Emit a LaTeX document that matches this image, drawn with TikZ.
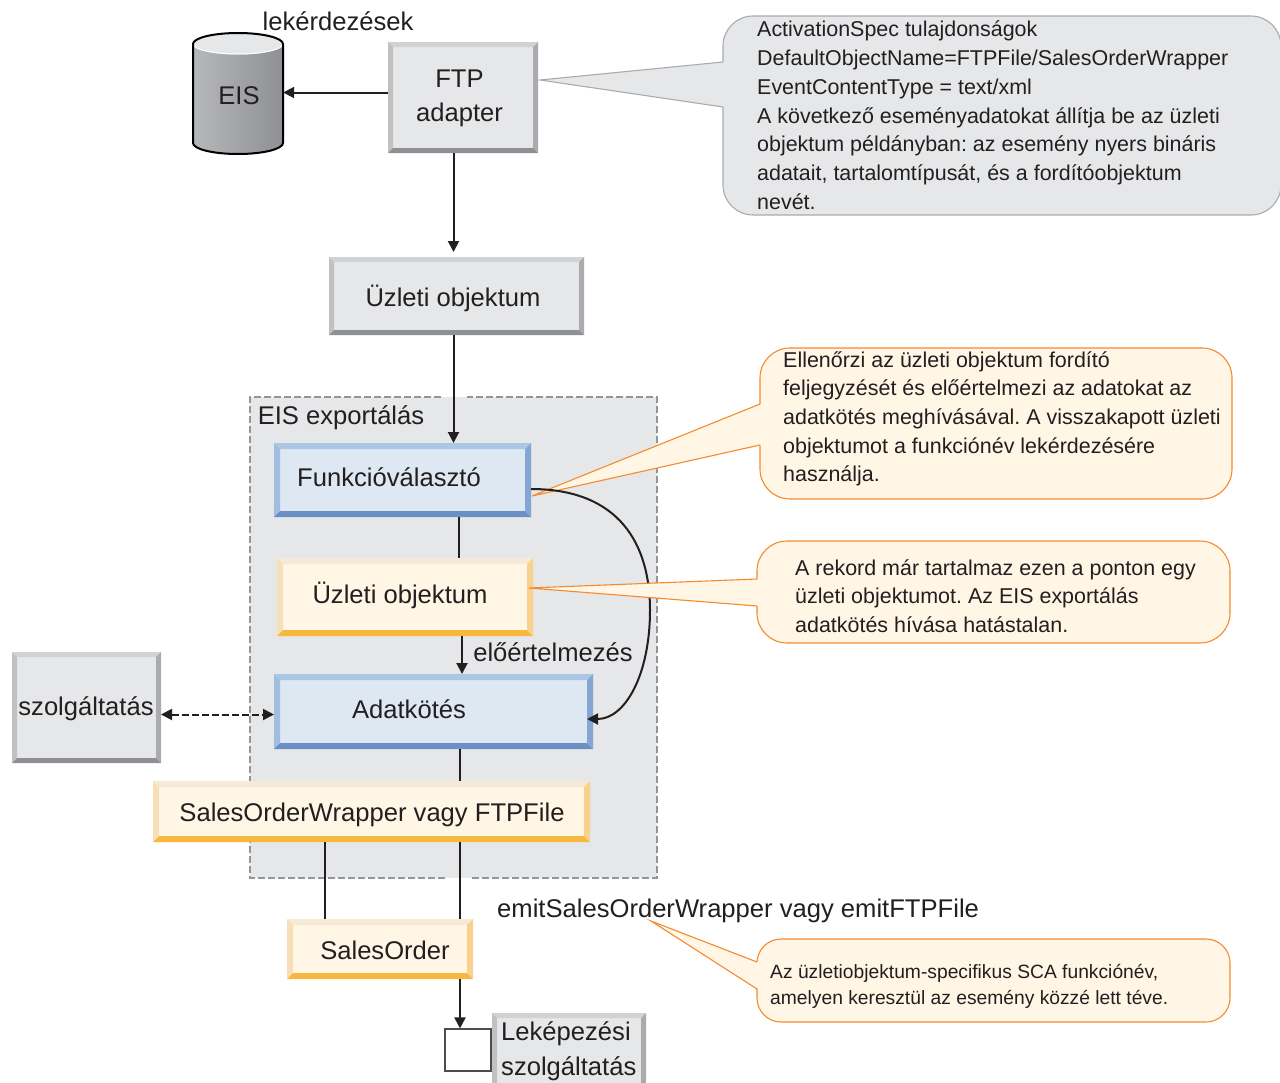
\documentclass[tikz,border=0pt]{standalone}
\usepackage{fontspec}
\setmainfont{Liberation Sans}
\usetikzlibrary{arrows.meta}
\definecolor{ink}{HTML}{231F20}
\definecolor{graytop}{HTML}{D0D2D4}
\definecolor{grayleft}{HTML}{BFC1C3}
\definecolor{grayright}{HTML}{A9ABAE}
\definecolor{graybottom}{HTML}{8E9093}
\definecolor{grayface}{HTML}{E6E7E8}
\definecolor{bluetop}{HTML}{AAC8E4}
\definecolor{blueleft}{HTML}{A0BEE0}
\definecolor{blueright}{HTML}{85A6D2}
\definecolor{bluebottom}{HTML}{6C90C6}
\definecolor{blueface}{HTML}{DDE8F2}
\definecolor{yellowtop}{HTML}{F6E9D5}
\definecolor{yellowleft}{HTML}{F6DFB9}
\definecolor{yellowright}{HTML}{F8D18C}
\definecolor{yellowbottom}{HTML}{F6B83F}
\definecolor{yellowface}{HTML}{FFF6E5}
\definecolor{noteline}{HTML}{F58A2E}
\definecolor{dashgray}{HTML}{939598}
\tikzset{
  boxtext/.style={font=\fontsize{25.6}{34.5}\selectfont\frenchspacing, text=ink, inner sep=0pt},
  notetext/.style={font=\fontsize{21.45}{28.7}\selectfont\frenchspacing, text=ink, inner sep=0pt, align=left, anchor=north west},
  smalltext/.style={font=\fontsize{19.25}{26}\selectfont\frenchspacing, text=ink, inner sep=0pt, align=left, anchor=north west},
  conn/.style={draw=ink, line width=2pt},
  arrow/.style={conn, -{Triangle[length=11pt,width=11pt]}},
  yellownote/.style={fill=yellowface, draw=noteline, line width=1.1pt},
  graynote/.style={fill=grayface, draw=grayright, line width=1.1pt},
}
% box with four bevelled edges
\newcommand{\bevelbox}[7][6]{%
  \node[fill=#7face, inner sep=0pt, outer sep=0pt, minimum width={#5pt-#3pt}, minimum height={#6pt-#4pt}]
    (#2) at ({(#3+#5)/2},{(#4+#6)/2}) {};
  \fill[#7top] (#3,#4) -- (#5,#4) -- (#5-#1,#4+#1) -- (#3+#1,#4+#1) -- cycle;
  \fill[#7left] (#3,#4) -- (#3+#1,#4+#1) -- (#3+#1,#6-#1) -- (#3,#6) -- cycle;
  \fill[#7right] (#5,#4) -- (#5-#1,#4+#1) -- (#5-#1,#6-#1) -- (#5,#6) -- cycle;
  \fill[#7bottom] (#3,#6) -- (#3+#1,#6-#1) -- (#5-#1,#6-#1) -- (#5,#6) -- cycle;
}
% speech bubble: name, x0 y0 x1 y1, base of pointer on left edge, look; pointer goes to (tip)
\newcommand{\callnote}[9][30]{%
  \node[#9, rounded corners=#1pt, inner sep=0pt, outer sep=0pt, minimum width={#5pt-#3pt}, minimum height={#6pt-#4pt}]
    (#2) at ({(#3+#5)/2},{(#4+#6)/2}) {};
  \fill[#9, draw=none] (#3+1.5,#7) -- (tip) -- (#3+1.5,#8) -- cycle;
  \draw[#9, fill=none] (#3,#7) -- (tip) -- (#3,#8);
}
\begin{document}
\begin{tikzpicture}[x=1pt,y=-1pt]
\useasboundingbox (0,0) rectangle (1280,1082);
\clip (0,0) rectangle (1280,1082);
% EIS exportalas
\node[fill=grayface, inner sep=0pt, minimum width=407pt, minimum height=481pt] (eisarea) at (453.5,637.5) {};
\draw[dashgray, line width=2pt, dash pattern=on 7pt off 3pt] (441,397) -- (250,397) -- (250,878) -- (448,878);
\draw[dashgray, line width=2pt, dash pattern=on 7pt off 3pt] (472,878) -- (657,878) -- (657,397) -- (467,397);
\node[boxtext] (eisarealabel) at (341,418) {EIS exportálás};
% EIS
\shade[left color=grayright!85!white, middle color=graytop!80!white, right color=graybottom]
  (193,44) -- (193,143) arc[start angle=180, end angle=0, x radius=45, y radius=11] -- (283,44)
  arc[start angle=0, end angle=-180, x radius=45, y radius=11] -- cycle;
\fill[grayface] (238,44) ellipse[x radius=45, y radius=10.5];
\draw[white, line width=1pt] (193,44) arc[start angle=180, end angle=0, x radius=45, y radius=10];
\draw[black, line width=2pt] (193,44) -- (193,143) arc[start angle=180, end angle=0, x radius=45, y radius=11] -- (283,44)
  arc[start angle=0, end angle=-180, x radius=45, y radius=11] -- cycle;
\node[boxtext, minimum width=88pt] (eis) at (239,96) {EIS};
\node[boxtext] (queries) at (338,21) {lekérdezések};
% Boxes
\bevelbox[5]{ftp}{388}{42}{538}{153}{gray}
\node[boxtext, align=center] (ftplabel) at (459.5,98.5) {FTP\\adapter};
\bevelbox[5]{topobject}{329}{257}{584}{335}{gray}
\node[boxtext] (topobjectlabel) at (453,298) {Üzleti objektum};
\bevelbox{selector}{274}{443}{531}{517}{blue}
\node[boxtext] (selectorlabel) at (389,477) {Funkcióválasztó};
\bevelbox{object}{277}{558}{533}{636}{yellow}
\node[boxtext] (objectlabel) at (400,595) {Üzleti objektum};
\bevelbox{binding}{274}{674}{593}{749}{blue}
\node[boxtext] (bindinglabel) at (409,709) {Adatkötés};
\bevelbox[5]{service}{12}{652}{161}{763}{gray}
\node[boxtext] (servicelabel) at (86,709) {szolgáltatás};
\bevelbox{wrapper}{153}{781}{590}{842}{yellow}
\node[boxtext] (wrapperlabel) at (372,815) {SalesOrderWrapper vagy FTPFile};
\bevelbox{salesorder}{287}{919}{473}{979}{yellow}
\node[boxtext] (salesorderlabel) at (385,950) {SalesOrder};
\bevelbox[5]{mapping}{492}{1013}{646}{1092}{gray}
\node[boxtext, align=left, anchor=west] (mappinglabel) at (501,1051) {Leképezési\\szolgáltatás};
\node[draw=ink!80, fill=white, line width=1.2pt, inner sep=0pt, minimum width=46pt, minimum height=42pt] (mapin) at (468,1050) {};
% Connectors
\draw[arrow] (ftp.west |- 0,92.5) -- ([yshift=3.5pt]eis.east);
\draw[arrow] ([xshift=-9.5pt]ftp.south) -- ([xshift=-3pt,yshift=5pt]topobject.north);
\draw[arrow] ([xshift=-3pt]topobject.south) -- ([xshift=51pt]selector.north);
\draw[conn] ([xshift=56.5pt]selector.south) -- ([xshift=54pt]object.north);
\draw[arrow] ([xshift=57pt]object.south) -- ([xshift=28.5pt]binding.north);
\draw[conn] ([xshift=26.5pt]binding.south) -- ([xshift=88.5pt]wrapper.north);
\draw[conn] ([xshift=-46.5pt]wrapper.south) -- ([xshift=-55pt]salesorder.north);
\draw[conn] ([xshift=88.5pt]wrapper.south) -- ([xshift=80pt]salesorder.north);
\draw[arrow] ([xshift=80pt]salesorder.south) -- ([xshift=-8pt]mapin.north);
\draw[conn, dash pattern=on 7pt off 3pt, {Triangle[length=11pt,width=11pt]}-{Triangle[length=11pt,width=11pt]}]
  ([yshift=-7pt]service.east) -- ([yshift=-3pt]binding.west);
\node[boxtext] (preparse) at (553,652) {előértelmezés};
% Notes
\coordinate (tip) at (540,80);
\callnote{adapterbubble}{723}{16}{1281}{215}{62}{107}{graynote}
\node[notetext] (adapternote) at (757,21) {ActivationSpec tulajdonságok\\
DefaultObjectName=FTPFile/SalesOrderWrapper\\
EventContentType = text/xml\\
A következő eseményadatokat állítja be az üzleti\\
objektum példányban: az esemény nyers bináris\\
adatait, tartalomtípusát, és a fordítóobjektum\\
nevét.};
\coordinate (tip) at (532,496);
\callnote{selectorbubble}{760}{348}{1232}{499}{404}{445}{yellownote}
\draw[conn, -{Triangle[length=11pt,width=11pt]}] ([yshift=-9pt]selector.east) .. controls (620,489) and (650,545) .. (650,610)
  .. controls (650,675) and (625,719) .. ([xshift=-6pt,yshift=-7.5pt]binding.east);
\node[notetext] (selectornote) at (783,351) {Ellenőrzi az üzleti objektum fordító\\
feljegyzését és előértelmezi az adatokat az\\
adatkötés meghívásával. A visszakapott üzleti\\
objektumot a funkciónév lekérdezésére\\
használja.};
\coordinate (tip) at (529,588);
\callnote{objectbubble}{757}{541}{1230}{643}{579}{606}{yellownote}
\node[notetext] (objectnote) at (795,559) {A rekord már tartalmaz ezen a ponton egy\\
üzleti objektumot. Az EIS exportálás\\
adatkötés hívása hatástalan.};
\node[boxtext, anchor=west] (emitlabel) at (497,911) {emitSalesOrderWrapper vagy emitFTPFile};
\coordinate (tip) at (651,921);
\callnote[24]{emitbubble}{757}{939}{1230}{1022}{962}{989}{yellownote}
\node[smalltext] (emitnote) at (770,964) {Az üzletiobjektum-specifikus SCA funkciónév,\\
amelyen keresztül az esemény közzé lett téve.};
\end{tikzpicture}
\end{document}
